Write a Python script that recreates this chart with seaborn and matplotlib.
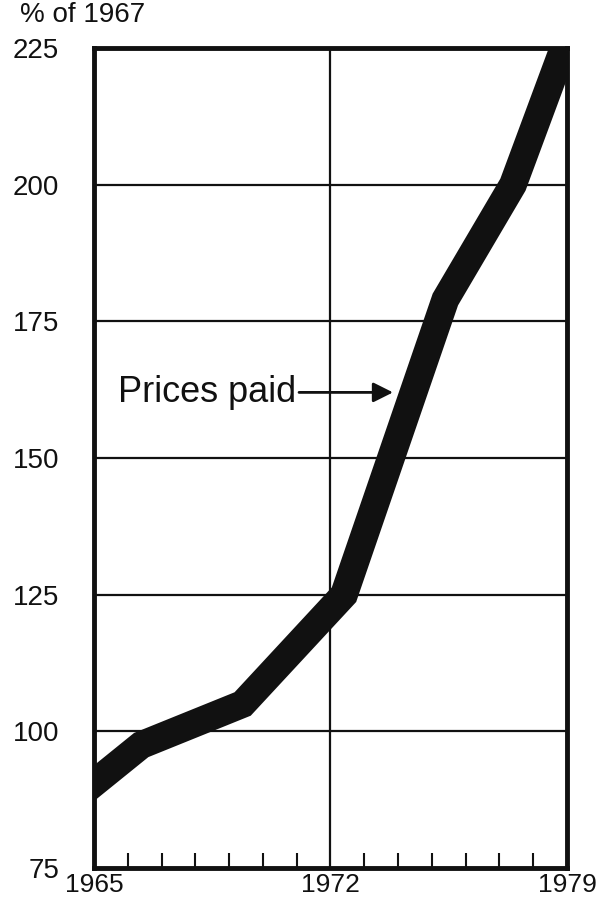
import numpy as np
import pandas as pd
import matplotlib
matplotlib.use("Agg")
import matplotlib.pyplot as plt
import seaborn as sns

# values (index, 1967 = 100)
years = [1965.0, 1966.4, 1969.4, 1972.4, 1975.4, 1977.4, 1978.9]
prices_paid = [90.5, 97.5, 105.0, 125.0, 179.0, 200.0, 225.0]

y_ticks = [75, 100, 125, 150, 175, 200, 225]
x_ticks = [1965, 1972, 1979]
minor_years = list(range(1966, 1979))

df = pd.DataFrame({"year": years, "index": prices_paid})

sns.set_style("white")
plt.rcParams["font.family"] = ["Liberation Sans", "DejaVu Sans"]

fig = plt.figure(figsize=(6.11, 8.99), dpi=100)
ax = fig.add_axes([0.1538, 0.0345, 0.9280 - 0.1538, 0.9466 - 0.0345])

sns.lineplot(data=df, x="year", y="index", ax=ax, color="#111111",
             linewidth=20, solid_joinstyle="miter", solid_capstyle="projecting",
             zorder=3)

ax.set_xlim(1965, 1979)
ax.set_ylim(75, 225)
ax.set_xticks(x_ticks)
ax.set_xticks(minor_years, minor=True)
ax.set_yticks(y_ticks)
ax.set_xlabel("")
ax.set_ylabel("")

ax.grid(True, which="major", color="#111111", linewidth=1.6, zorder=1)
ax.tick_params(axis="both", which="major", length=0, labelsize=20, colors="#111111")
ax.tick_params(axis="x", which="major", labelsize=19, pad=3.5)
ax.tick_params(axis="y", pad=25)
ax.tick_params(axis="x", which="minor", bottom=True, direction="in", length=11,
               width=1.5, color="#111111")

for side in ["left", "right", "top", "bottom"]:
    ax.spines[side].set_visible(True)
    ax.spines[side].set_color("#111111")
    ax.spines[side].set_linewidth(3.5)
    ax.spines[side].set_zorder(4)

fig.text(0.033, 0.983, "% of 1967", fontsize=20, color="#111111",
         ha="left", va="center")

ax.annotate("Prices paid", xy=(1973.85, 162), xytext=(1965.7, 162),
            fontsize=26, color="#111111", ha="left", va="center",
            arrowprops=dict(arrowstyle="-|>", color="#111111", lw=2,
                            mutation_scale=30, shrinkA=0, shrinkB=0))

fig.savefig("out.png", dpi=100)
